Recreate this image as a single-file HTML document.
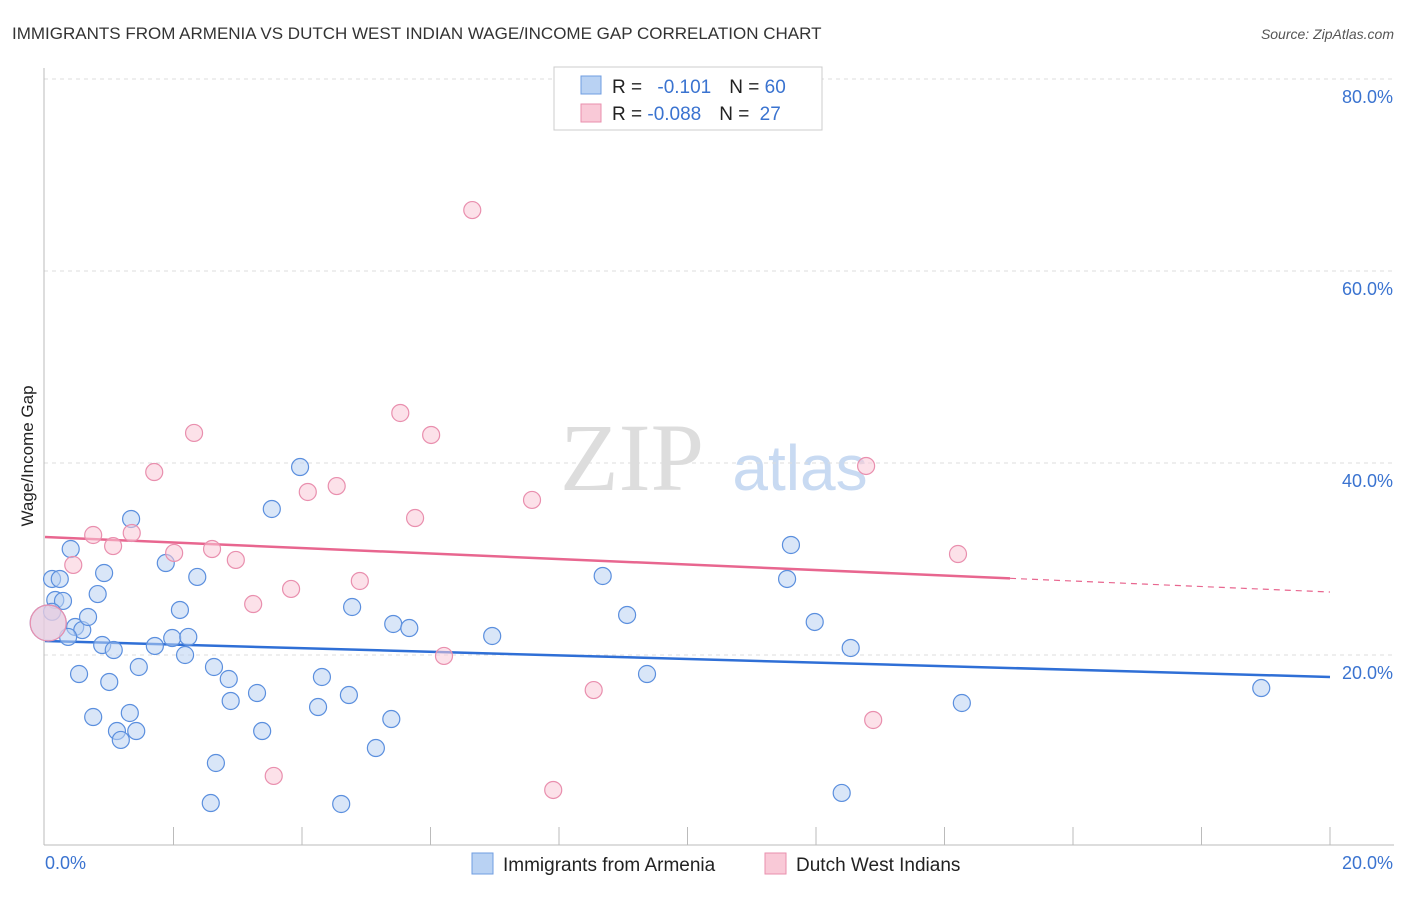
<!DOCTYPE html>
<html><head><meta charset="utf-8"><style>
body{margin:0;background:#fff;font-family:"Liberation Sans",sans-serif}
</style></head><body>
<svg width="1406" height="892" xmlns="http://www.w3.org/2000/svg" font-family="Liberation Sans, sans-serif">
<text x="12" y="39" font-size="17" fill="#333">IMMIGRANTS FROM ARMENIA VS DUTCH WEST INDIAN WAGE/INCOME GAP CORRELATION CHART</text>
<text x="1394" y="39" font-size="14" fill="#555" text-anchor="end" font-style="italic">Source: ZipAtlas.com</text>
<text x="632" y="490" font-size="96" fill="#ddd" font-family="Liberation Serif, serif" text-anchor="middle">ZIP</text>
<text x="800" y="490" font-size="64" fill="#c8daf2" text-anchor="middle">atlas</text>
<g id="grid"></g>
<line x1="44" y1="68" x2="44" y2="845" stroke="#bbb"/>
<line x1="44" y1="845" x2="1394" y2="845" stroke="#bbb"/>
<text x="33" y="456" font-size="17" fill="#222" text-anchor="middle" transform="rotate(-90 33 456)">Wage/Income Gap</text>
<text x="45" y="869" font-size="18" fill="#3a73d0">0.0%</text>
<text x="1393" y="869" font-size="18" fill="#3a73d0" text-anchor="end">20.0%</text>
<g id="lines"></g>
<g id="points"></g>
<g>
<rect x="554" y="67" width="268" height="63" fill="#fff" stroke="#ccc"/>
<rect x="581" y="76" width="20" height="18" fill="#b9d2f3" stroke="#6f9de0"/>
<rect x="581" y="104" width="20" height="18" fill="#f9c9d7" stroke="#e98fae"/>
<text x="612" y="93" font-size="19" fill="#222">R = <tspan fill="#3a73d0" dx="10">-0.101</tspan><tspan dx="18" fill="#222">N = </tspan><tspan fill="#3a73d0">60</tspan></text>
<text x="612" y="120" font-size="19" fill="#222">R = <tspan fill="#3a73d0">-0.088</tspan><tspan dx="18" fill="#222">N = </tspan><tspan fill="#3a73d0" dx="5">27</tspan></text>
</g>
<g>
<rect x="472" y="853" width="21" height="21" fill="#b9d2f3" stroke="#6f9de0"/>
<text x="503" y="871" font-size="19" fill="#222">Immigrants from Armenia</text>
<rect x="765" y="853" width="21" height="21" fill="#f9c9d7" stroke="#e98fae"/>
<text x="796" y="871" font-size="19" fill="#222">Dutch West Indians</text>
</g>
</svg>
<script>
const yTicks=[20,40,60,80];
const xTickCount=10;
const blueX=[0.11,0.23,0.40,0.16,0.28,0.82,0.92,1.34,1.88,2.37,2.10,0.47,0.58,0.67,0.36,0.89,1.07,1.71,1.98,2.23,2.18,0.53,1.00,1.46,0.75,1.32,1.12,1.18,1.42,2.63,2.86,2.89,3.30,3.38,2.66,2.58,3.97,3.53,4.78,4.31,4.25,4.73,5.42,5.67,5.39,5.15,4.61,6.96,8.68,9.06,9.37,11.61,11.55,11.98,12.54,14.27,18.93,12.40,0.11,0.05];
const blueY=[27.92,27.92,31.04,25.73,25.63,26.35,28.54,34.17,29.58,28.13,24.69,22.92,22.60,23.96,21.88,21.04,20.52,20.94,21.77,21.88,20.00,18.02,17.19,18.75,13.54,13.96,12.08,11.15,12.08,18.75,17.50,15.21,16.04,12.08,8.75,4.58,39.58,35.21,25.00,17.71,14.58,15.83,23.23,22.81,13.33,10.31,4.48,21.98,28.23,24.17,18.02,31.46,27.92,23.44,20.73,15.00,16.56,5.63,24.5,23.33];
const pinkX=[6.65,5.53,2.32,6.01,1.70,12.78,4.09,4.54,7.58,5.76,0.75,1.06,1.35,0.44,2.01,2.60,2.97,14.21,4.90,3.83,3.24,6.21,8.54,12.89,3.56,7.91,0.05];
const pinkY=[66.35,45.21,43.13,42.92,39.06,39.69,36.98,37.60,36.15,34.27,32.50,31.35,32.71,29.38,30.63,31.04,29.90,30.52,27.71,26.88,25.31,19.90,16.35,13.23,7.40,5.94,23.33];
const blueTrend=[21.46,17.71];
const pinkTrend=[32.29,26.56];
const pinkSolidEnd=15.02;
const NS='http://www.w3.org/2000/svg';
const sx=v=>45+v*1285/20, sy=v=>847-v*9.6;
function mk(t,a,p){const e=document.createElementNS(NS,t);for(const k in a)e.setAttribute(k,a[k]);p.appendChild(e);return e;}
const grid=document.getElementById('grid');
yTicks.forEach(t=>{
 const l=mk('line',{x1:44,x2:1394,y1:sy(t),y2:sy(t),stroke:'#ddd','stroke-dasharray':'4 4'},grid);
 
 
 const tx=mk('text',{x:1393,y:sy(t)+24,'font-size':18,fill:'#3a73d0','text-anchor':'end'},grid);
 tx.textContent=t.toFixed(1)+'%';
 
 
});
for(let i=1;i<=xTickCount;i++){
 const l=mk('line',{x1:sx(i*2),x2:sx(i*2),y1:827,y2:845,stroke:'#bbb'},grid);
 
 
}
const pts=document.getElementById('points');
function dot(x,y,r,f,s){const c=mk('circle',{cx:sx(x),cy:sy(y),r:r,fill:f,'fill-opacity':0.55,stroke:s,'stroke-width':1.2},pts);return c;}
blueX.forEach((x,i)=>{const r=(i==blueX.length-1)?18:8.5;const c=dot(x,blueY[i],r,'#b9d2f3','#5b8fde');
 
 });
pinkX.forEach((x,i)=>{const r=(i==pinkX.length-1)?18:8.5;const c=dot(x,pinkY[i],r,'#f9c9d7','#e98fae');
 
 });
const lines=document.getElementById('lines');
const bl=mk('line',{x1:sx(0),y1:sy(blueTrend[0]),x2:sx(20),y2:sy(blueTrend[1]),stroke:'#2f6fd6','stroke-width':2.5},lines);


const pm=pinkTrend[0]+(pinkTrend[1]-pinkTrend[0])*pinkSolidEnd/20;
const pl=mk('line',{x1:sx(0),y1:sy(pinkTrend[0]),x2:sx(pinkSolidEnd),y2:sy(pm),stroke:'#e8668f','stroke-width':2.5},lines);


const pd=mk('line',{x1:sx(pinkSolidEnd),y1:sy(pm),x2:sx(20),y2:sy(pinkTrend[1]),stroke:'#e8668f','stroke-width':1.2,'stroke-dasharray':'6 5'},lines);


</script>
</body></html>
